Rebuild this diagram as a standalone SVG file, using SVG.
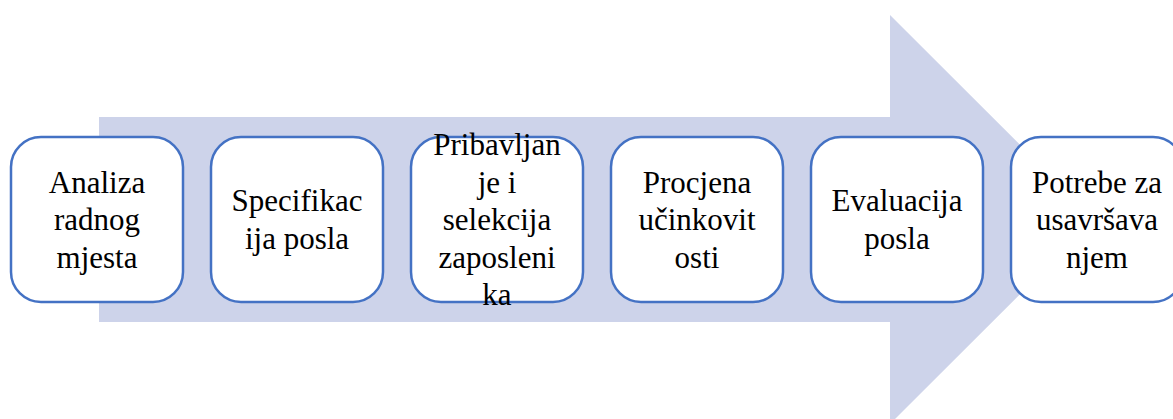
<svg xmlns="http://www.w3.org/2000/svg" width="1173" height="419" viewBox="0 0 1173 419">
<style>
.box{fill:#ffffff;stroke:#4472C4;stroke-width:2.5}
.t{font-family:'Liberation Serif','DejaVu Serif',serif;font-size:31px;fill:#000;text-anchor:middle}
</style>
<rect width="1173" height="419" fill="#ffffff"/>
<g id="arrow">
<polygon points="99,117 890,117 890,15 1095,219.5 890,424 890,322 99,322" fill="#CDD3EA"/>
</g>
<g id="connectors"></g>
<g id="n1"><rect class="box" x="11" y="137" width="172" height="165" rx="30"/>
<text class="t" x="97"><tspan x="97" y="192.5">Analiza</tspan><tspan x="97" y="230">radnog</tspan><tspan x="97" y="267.5">mjesta</tspan></text></g>
<g id="n2"><rect class="box" x="211" y="137" width="172" height="165" rx="30"/>
<text class="t" x="297"><tspan x="297" y="211">Specifikac</tspan><tspan x="297" y="248.5">ija posla</tspan></text></g>
<g id="n3"><rect class="box" x="411" y="137" width="172" height="165" rx="30"/>
<text class="t" x="497"><tspan x="497" y="155">Pribavljan</tspan><tspan x="497" y="192.5">je i</tspan><tspan x="497" y="230">selekcija</tspan><tspan x="497" y="267.5">zaposleni</tspan><tspan x="497" y="305">ka</tspan></text></g>
<g id="n4"><rect class="box" x="611" y="137" width="172" height="165" rx="30"/>
<text class="t" x="697"><tspan x="697" y="192.5">Procjena</tspan><tspan x="697" y="230">učinkovit</tspan><tspan x="697" y="267.5">osti</tspan></text></g>
<g id="n5"><rect class="box" x="811" y="137" width="172" height="165" rx="30"/>
<text class="t" x="897"><tspan x="897" y="211">Evaluacija</tspan><tspan x="897" y="248.5">posla</tspan></text></g>
<g id="n6"><rect class="box" x="1011" y="137" width="172" height="165" rx="30"/>
<text class="t" x="1097"><tspan x="1097" y="192.5">Potrebe za</tspan><tspan x="1097" y="230">usavršava</tspan><tspan x="1097" y="267.5">njem</tspan></text></g>
</svg>
